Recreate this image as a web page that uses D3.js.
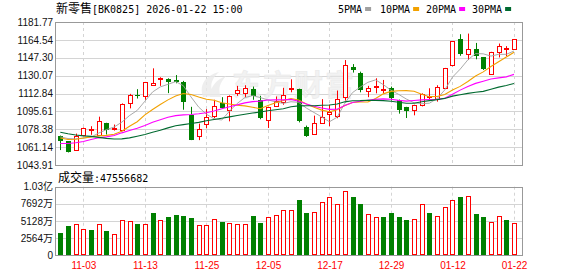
<!DOCTYPE html>
<html lang="zh-CN">
<head>
<meta charset="utf-8">
<title>新零售[BK0825]</title>
<script src="https://cdn.jsdelivr.net/npm/d3@7"></script>
<style>
 body { margin: 0; background: #fff; }
</style>
</head>
<body>
<script>

 // trading days shown on the chart
 var dates = ["10-29","10-30","10-31",
   "11-03","11-04","11-05","11-06","11-07","11-10","11-11","11-12","11-13","11-14",
   "11-17","11-18","11-19","11-20","11-21","11-24","11-25","11-26","11-27","11-28",
   "12-01","12-02","12-03","12-04","12-05","12-08","12-09","12-10","12-11","12-12",
   "12-15","12-16","12-17","12-18","12-19","12-22","12-23","12-24","12-25","12-26",
   "12-29","12-30","12-31",
   "01-05","01-06","01-07","01-08","01-09","01-12","01-13","01-14","01-15","01-16",
   "01-19","01-20","01-21","01-22"];
 var tickDates = ["11-03","11-13","11-25","12-05","12-17","12-29","01-12","01-22"];

 // OHLC
 var open = [1071.4,1066.6,1058.0,1072.6,1078.5,1073.3,1084.4,1079.0,1078.1,1103.6,
   1111.2,1110.9,1120.8,1127.2,1126.5,1125.9,1124.0,1092.4,1071.7,1083.2,
   1090.8,1103.6,1096.6,1113.2,1113.8,1117.3,1106.8,1087.0,1101.0,1104.9,
   1117.5,1117.3,1080.6,1073.9,1084.4,1093.0,1090.8,1109.3,1138.0,1132.3,
   1115.4,1119.5,1116.4,1118.6,1106.8,1099.8,1097.2,1101.3,1110.6,1107.4,
   1117.9,1140.0,1165.8,1150.5,1155.3,1147.6,1131.7,1152.4,1155.8,1156.2];
 var high = [1072.3,1066.8,1074.2,1080.0,1081.3,1090.5,1084.6,1082.9,1103.3,1112.5,
   1117.0,1124.0,1137.1,1128.5,1127.5,1130.6,1125.0,1100.0,1083.8,1097.8,
   1106.8,1109.3,1111.0,1120.2,1120.8,1119.5,1110.6,1100.0,1110.0,1118.3,
   1126.5,1117.5,1081.9,1091.5,1107.4,1102.0,1115.7,1145.1,1141.2,1133.9,
   1120.2,1127.5,1125.9,1119.5,1107.0,1100.0,1102.0,1113.0,1117.9,1120.8,
   1137.5,1163.3,1170.0,1170.6,1161.6,1148.0,1153.0,1161.0,1158.5,1165.0];
 var low = [1058.3,1056.0,1057.8,1072.0,1073.0,1073.0,1073.3,1077.1,1076.5,1098.5,
   1108.0,1106.8,1120.5,1120.2,1113.2,1122.7,1097.2,1067.9,1067.9,1079.3,
   1089.0,1098.0,1086.0,1110.6,1109.3,1106.8,1088.0,1079.6,1099.8,1102.0,
   1114.0,1085.0,1071.0,1073.5,1084.0,1081.3,1089.0,1106.0,1133.0,1114.0,
   1109.3,1113.0,1113.0,1106.0,1093.4,1089.2,1091.8,1100.4,1106.8,1105.0,
   1117.3,1139.0,1149.2,1145.1,1145.8,1135.5,1131.0,1147.6,1148.9,1156.0];
 var close = [1066.9,1056.3,1072.3,1079.6,1078.9,1086.3,1078.1,1079.5,1103.0,1111.3,
   1110.6,1123.7,1122.7,1127.5,1124.0,1123.7,1104.2,1067.9,1078.7,1090.2,
   1101.0,1098.5,1110.6,1115.8,1118.6,1110.6,1088.9,1099.8,1105.8,1111.3,
   1118.5,1086.1,1072.3,1084.4,1089.9,1095.3,1108.0,1140.0,1135.5,1116.4,
   1118.0,1119.9,1117.0,1108.6,1096.6,1095.6,1101.7,1112.5,1110.9,1119.5,
   1137.1,1163.0,1150.8,1156.2,1149.2,1136.1,1152.4,1159.1,1156.4,1164.9];

 // volume, in 万
 var volume = [3299,4348,4598,3898,3748,4598,3599,3099,5198,5048,
   4648,4598,6298,5198,5698,5998,5848,5548,4448,4448,
   5348,4948,4748,4598,4598,5848,4798,5648,5948,6698,
   6698,8247,6298,6398,7897,8647,7597,9546,8697,7597,
   6198,5648,5698,6298,5698,5248,5348,7597,6298,5798,
   7148,8197,8697,8797,6148,5698,4898,5798,5248,4756];

 // moving averages
 var ma5 = [1071.0,1069.4,1069.1,1069.8,1070.8,1074.7,1078.0,1080.5,1085.2,1091.6,
   1096.5,1105.4,1114.3,1119.2,1121.7,1124.3,1120.4,1109.5,1099.7,1092.9,
   1088.4,1087.3,1095.8,1103.2,1108.9,1110.8,1108.9,1106.7,1104.7,1103.3,
   1104.9,1104.3,1098.8,1094.5,1090.2,1085.6,1090.0,1103.5,1113.7,1119.0,
   1123.6,1126.0,1121.4,1116.0,1112.0,1107.5,1103.9,1103.0,1103.5,1108.0,
   1116.3,1128.6,1136.3,1145.3,1151.3,1151.1,1148.9,1150.6,1150.6,1153.8];
 var ma10 = [1070.0,1068.5,1068.8,1070.0,1071.0,1072.0,1072.5,1073.5,1076.5,1081.2,
   1085.6,1092.2,1097.4,1102.2,1106.7,1110.4,1112.9,1111.9,1109.5,1107.3,
   1106.4,1103.9,1102.7,1101.5,1100.9,1099.6,1098.1,1101.3,1104.0,1106.1,
   1107.9,1106.6,1102.8,1099.6,1096.8,1095.3,1097.2,1101.2,1104.1,1104.6,
   1104.6,1108.0,1112.5,1114.9,1115.5,1115.6,1115.0,1112.2,1109.8,1110.0,
   1111.9,1116.3,1119.7,1124.4,1129.7,1133.7,1138.8,1143.5,1148.0,1152.6];
 var ma20 = [1064.6,1064.6,1065.3,1066.6,1068.5,1070.1,1071.0,1072.3,1074.9,1077.1,
   1079.3,1081.9,1085.1,1087.6,1089.9,1091.5,1092.2,1092.6,1093.3,1094.3,
   1096.0,1098.1,1100.1,1101.9,1103.8,1105.0,1105.5,1106.6,1106.8,1106.7,
   1107.2,1105.3,1102.8,1100.6,1098.9,1097.5,1097.7,1101.3,1104.1,1105.4,
   1106.3,1107.3,1107.7,1107.3,1106.2,1105.5,1106.1,1106.7,1107.0,1107.3,
   1108.3,1112.2,1116.1,1119.7,1122.6,1124.7,1126.9,1127.9,1128.9,1131.3];
 var ma30 = [1075.5,1074.0,1072.8,1072.0,1071.5,1070.5,1069.6,1069.0,1069.1,1070.1,
   1071.7,1073.3,1075.5,1077.4,1079.7,1081.7,1082.8,1083.9,1085.0,1086.5,
   1087.8,1089.0,1090.3,1091.6,1092.8,1094.0,1095.0,1096.2,1097.2,1098.2,
   1100.0,1100.9,1101.0,1101.1,1101.5,1101.8,1102.7,1104.8,1105.9,1106.0,
   1106.3,1106.2,1106.0,1105.3,1104.4,1103.5,1103.4,1104.9,1106.0,1106.9,
   1108.1,1110.3,1111.7,1113.0,1114.0,1114.9,1117.0,1119.0,1120.6,1122.4];

 var priceTicks = [1043.91,1061.14,1078.38,1095.61,1112.84,1130.07,1147.30,1164.54,1181.77];
 var volTicks = [0,2564,5128,7692,10256];
 var volTickLabels = ["0","2564万","5128万","7692万","1.03亿"];

 var maNames = ["5PMA","10PMA","20PMA","30PMA"];
 var maColors = ["#a0a0a0","#f2a100","#ff00ff","#006a30"];

 var upColor = "#ff0000", downColor = "#008000";
 var gridColor = "#d4d4d4", borderColor = "#999999";
 var monoFont = "'DejaVu Sans Mono', monospace";
 var cjkFont = "'Noto Sans CJK SC', sans-serif";
 var numFont = "'DejaVu Sans', sans-serif";

 //Display specifications
 var width = 578, height = 276;
 var left = 55, right = 522;
 var priceTop = 22, priceBottom = 165;
 var volTop = 186.7, volBottom = 255;

 var svg = d3.select("body")
	     .append("svg")
	     .attr("width", width)
	     .attr("height", height);

 //Scales
 var x = d3.scaleLinear()
	   .domain([0, dates.length - 1])
	   .range([60.3, 514]);
 var y = d3.scaleLinear()
	   .domain([priceTicks[0], priceTicks[priceTicks.length - 1]])
	   .range([priceBottom, priceTop]);
 var yv = d3.scaleLinear()
	    .domain([0, volTicks[volTicks.length - 1]])
	    .range([volBottom, volTop]);

 function crisp(v) { return Math.round(v) + 0.5; }
 var tickIdx = tickDates.map(function (d) { return dates.indexOf(d); });

 //Title
 var title = svg.append("text").attr("x", 56).attr("y", 13).attr("fill", "#000");
 title.append("tspan").attr("font-family", cjkFont).attr("font-size", 12).text("新零售");
 title.append("tspan").attr("font-family", monoFont).attr("font-size", 10).text("[BK0825] 2026-01-22 15:00");

 //Legend
 var legendX = [338, 380, 426, 472];
 maNames.forEach(function (name, k) {
     var t = svg.append("text")
		.attr("x", legendX[k]).attr("y", 13)
		.attr("font-family", monoFont).attr("font-size", 10)
		.attr("fill", "#000").text(name);
     var w = t.node().getComputedTextLength();
     svg.append("rect")
	.attr("x", legendX[k] + w + 3).attr("y", 7)
	.attr("width", 6).attr("height", 4)
	.attr("fill", maColors[k]);
 });

 //Gridlines, price panel
 svg.append("g").selectAll("line")
    .data(priceTicks.slice(1, -1))
    .enter().append("line")
    .attr("x1", left).attr("x2", right)
    .attr("y1", function (d) { return crisp(y(d)); })
    .attr("y2", function (d) { return crisp(y(d)); })
    .attr("stroke", gridColor);

 //Gridlines, volume panel
 svg.append("g").selectAll("line")
    .data(volTicks.slice(1, -1))
    .enter().append("line")
    .attr("x1", left).attr("x2", right)
    .attr("y1", function (d) { return crisp(yv(d)); })
    .attr("y2", function (d) { return crisp(yv(d)); })
    .attr("stroke", gridColor);

 //Dashed verticals on both panels
 [[priceTop, priceBottom], [volTop, volBottom]].forEach(function (p) {
     svg.append("g").selectAll("line")
	.data(tickIdx)
	.enter().append("line")
	.attr("x1", function (d) { return crisp(x(d)); })
	.attr("x2", function (d) { return crisp(x(d)); })
	.attr("y1", p[0]).attr("y2", p[1])
	.attr("stroke", gridColor)
	.attr("stroke-dasharray", "3,3");
 });

 //Watermark
 var wm = svg.append("g").attr("opacity", 0.8);
 wm.append("path")
   .attr("d", "M203,97 C199,86 204,76 219,72 C211,79 209,87 214,96 Z M210,97 C210,88 215,80 226,76 C219,84 218,90 221,97 Z")
   .attr("fill", "#ebebeb");
 wm.append("text")
   .attr("x", 232).attr("y", 96)
   .attr("font-family", cjkFont).attr("font-size", 29).attr("font-weight", "bold")
   .attr("fill", "#efefef").attr("stroke", "#e4e4e4").attr("stroke-width", 0.5)
   .attr("textLength", 122)
   .text("东方财富");

 //Candles
 var idx = d3.range(dates.length);
 var candles = svg.append("g").selectAll("g")
		  .data(idx)
		  .enter().append("g");

 candles.append("line")
	.attr("x1", function (i) { return Math.round(x(i)) + 0.5; })
	.attr("x2", function (i) { return Math.round(x(i)) + 0.5; })
	.attr("y1", function (i) { return y(high[i]); })
	.attr("y2", function (i) { return y(low[i]); })
	.attr("stroke", function (i) { return close[i] >= open[i] ? upColor : downColor; });

 candles.each(function (i) {
     var g = d3.select(this);
     var cx = Math.round(x(i));
     var top = y(Math.max(open[i], close[i]));
     var bot = y(Math.min(open[i], close[i]));
     if (close[i] >= open[i]) {
	 var t = Math.round(top) + 0.5, b = Math.max(Math.round(bot) + 0.5, t + 1);
	 g.append("rect")
	  .attr("x", cx - 1.5).attr("y", t)
	  .attr("width", 4).attr("height", b - t)
	  .attr("fill", "#fff").attr("stroke", upColor);
     } else {
	 g.append("rect")
	  .attr("x", cx - 2).attr("y", Math.round(top))
	  .attr("width", 5).attr("height", Math.max(Math.round(bot) - Math.round(top), 1))
	  .attr("fill", downColor);
     }
 });

 //Moving averages
 [ma5, ma10, ma20, ma30].forEach(function (series, k) {
     var line = d3.line()
		  .x(function (d, i) { return x(i); })
		  .y(function (d) { return y(d); });
     svg.append("path")
	.datum(series)
	.attr("d", line)
	.attr("fill", "none")
	.attr("stroke", maColors[k])
	.attr("stroke-width", k === 0 ? 0.9 : 1.1);
 });

 //Volume bars, coloured by close against previous close
 svg.append("g").selectAll("rect")
    .data(idx)
    .enter().append("rect")
    .each(function (i) {
	var up = i === 0 ? close[i] >= open[i] : close[i] >= close[i - 1];
	var cx = Math.round(x(i));
	var t = Math.round(yv(volume[i]));
	var r = d3.select(this);
	if (up) {
	    r.attr("x", cx - 1.5).attr("y", t + 0.5)
	     .attr("width", 4).attr("height", volBottom - t - 1)
	     .attr("fill", "#fff").attr("stroke", upColor);
	} else {
	    r.attr("x", cx - 2).attr("y", t)
	     .attr("width", 5).attr("height", volBottom - t)
	     .attr("fill", downColor);
	}
    });

 //Panel borders
 svg.append("rect")
    .attr("x", left + 0.5).attr("y", priceTop + 0.5)
    .attr("width", right - left).attr("height", priceBottom - priceTop)
    .attr("fill", "none").attr("stroke", borderColor);
 svg.append("rect")
    .attr("x", left + 0.5).attr("y", Math.round(volTop) + 0.5)
    .attr("width", right - left).attr("height", volBottom - Math.round(volTop))
    .attr("fill", "none").attr("stroke", borderColor);

 //Axes
 var yAxis = d3.axisLeft(y)
	       .tickValues(priceTicks)
	       .tickFormat(d3.format(".2f"))
	       .tickSize(0).tickPadding(2);
 svg.append("g")
    .attr("transform", "translate(" + left + ",0)")
    .attr("font-family", numFont).attr("font-size", 11.5)
    .call(yAxis)
    .call(function (g) { g.select(".domain").remove(); })
    .selectAll("text").attr("fill", "#111");

 var vAxis = d3.axisLeft(yv)
	       .tickValues(volTicks)
	       .tickFormat(function (d, i) { return volTickLabels[i]; })
	       .tickSize(0).tickPadding(2);
 svg.append("g")
    .attr("transform", "translate(" + left + ",0)")
    .attr("font-family", numFont + ", " + cjkFont).attr("font-size", 11.5)
    .call(vAxis)
    .call(function (g) { g.select(".domain").remove(); })
    .selectAll("text").attr("fill", "#111");

 var xAxis = d3.axisBottom(x)
	       .tickValues(tickIdx)
	       .tickFormat(function (i) { return dates[i]; })
	       .tickSize(0);
 svg.append("g")
    .attr("transform", "translate(0," + volBottom + ")")
    .attr("font-family", monoFont).attr("font-size", 10)
    .call(xAxis)
    .call(function (g) { g.select(".domain").remove(); })
    .selectAll("text")
    .attr("y", 13.5).attr("dy", 0)
    .attr("fill", upColor);

 //Volume caption
 var cap = svg.append("text").attr("x", 58).attr("y", 181.5).attr("fill", "#000");
 cap.append("tspan").attr("font-family", cjkFont).attr("font-size", 12).text("成交量");
 cap.append("tspan").attr("font-family", monoFont).attr("font-size", 10).text(":47556682");

</script>
</body>
</html>
